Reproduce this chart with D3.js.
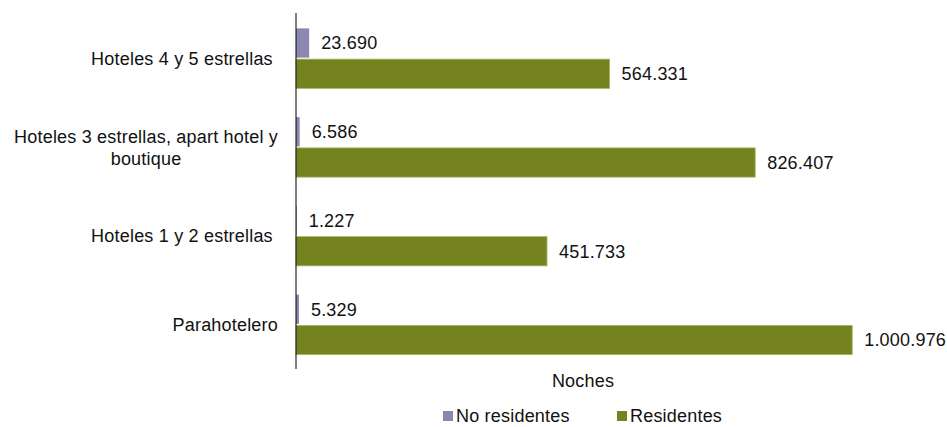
<!DOCTYPE html>
<html>
<head>
<meta charset="utf-8">
<script src="https://cdn.jsdelivr.net/npm/d3@7/dist/d3.min.js"></script>
<style>
  html, body { margin: 0; padding: 0; background: #ffffff; }
  svg text { font-family: "Liberation Sans", Arial, Helvetica, sans-serif; fill: #111; white-space: pre; }
</style>
</head>
<body>
<svg id="chart" width="947" height="427"></svg>
<script>
// ---- data ----
const categories = [
  "Hoteles 4 y 5 estrellas ",
  "Hoteles 3 estrellas, apart hotel y\nboutique",
  "Hoteles 1 y 2 estrellas ",
  "Parahotelero"
];
const seriesNames = ["No residentes", "Residentes"];
const noResidentes = [23690, 6586, 1227, 5329];
const residentes = [564331, 826407, 451733, 1000976];
const axisTitle = "Noches";
const seriesColors = ["#8a88b0", "#75831f"];
const seriesStroke = ["#8a88b0", "#a7b465"];

// ---- layout ----
const svg = d3.select("#chart");
const plotLeft = 296, plotRight = 870, plotTop = 14, plotBottom = 369;
const fontSize = 18, letterSp = 0.2;

const fmt = d3.formatLocale({ decimal: ",", thousands: ".", grouping: [3], currency: ["", ""] }).format(",d");

const x = d3.scaleLinear().domain([0, 1033000]).range([plotLeft, plotRight]);
const y0 = d3.scaleBand().domain(categories).range([plotTop, plotBottom])
  .paddingInner(0.324).paddingOuter(0.162);
const y1 = d3.scaleBand().domain(seriesNames).range([0, y0.bandwidth()]).paddingInner(0.05);

const rows = categories.map((c, i) => ({
  cat: c,
  vals: [
    { s: seriesNames[0], v: noResidentes[i], k: 0 },
    { s: seriesNames[1], v: residentes[i], k: 1 }
  ]
}));

const g = svg.append("g");
const groups = g.selectAll("g.cat").data(rows).join("g")
  .attr("class", "cat")
  .attr("transform", d => `translate(0,${y0(d.cat)})`);

groups.selectAll("rect").data(d => d.vals).join("rect")
  .attr("x", x(0))
  .attr("y", d => y1(d.s))
  .attr("width", d => Math.max(0.6, x(d.v) - x(0)))
  .attr("height", y1.bandwidth())
  .attr("fill", d => seriesColors[d.k])
  .attr("stroke", d => d.k === 1 ? seriesStroke[1] : "none")
  .attr("stroke-width", 0.8);

groups.selectAll("text.val").data(d => d.vals).join("text")
  .attr("class", "val")
  .attr("x", d => x(d.v) + 12)
  .attr("y", d => y1(d.s) + y1.bandwidth() / 2)
  .attr("dy", "0.36em")
  .style("font-size", fontSize + "px")
  .style("letter-spacing", letterSp + "px")
  .text(d => fmt(d.v));

// vertical axis line
svg.append("line")
  .attr("x1", plotLeft).attr("x2", plotLeft)
  .attr("y1", plotTop - 1).attr("y2", plotBottom)
  .attr("stroke", "#000").attr("stroke-width", 1);

// category labels
const labelRight = plotLeft - 18;
const lineH = 22;
categories.forEach(c => {
  const lines = c.split("\n");
  const cy = y0(c) + y0.bandwidth() / 2;
  const t = svg.append("text")
    .style("font-size", fontSize + "px")
    .style("letter-spacing", letterSp + "px")
    .attr("text-anchor", lines.length > 1 ? "middle" : "end");
  const spans = lines.map((ln, j) => t.append("tspan")
    .attr("y", cy + (j - (lines.length - 1) / 2) * lineH)
    .attr("dy", "0.36em")
    .text(ln));
  if (lines.length > 1) {
    const w = d3.max(spans, s => s.node().getComputedTextLength());
    spans.forEach(s => s.attr("x", labelRight - w / 2));
  } else {
    spans.forEach(s => s.attr("x", labelRight));
  }
});

// axis title
svg.append("text")
  .attr("x", (plotLeft + plotRight) / 2)
  .attr("y", 381).attr("dy", "0.36em")
  .attr("text-anchor", "middle")
  .style("font-size", fontSize + "px")
  .style("letter-spacing", letterSp + "px")
  .text(axisTitle);

// legend
const legendPos = [443, 617];
const leg = svg.append("g");
seriesNames.forEach((s, i) => {
  leg.append("rect")
    .attr("x", legendPos[i]).attr("y", 411)
    .attr("width", 10).attr("height", 10)
    .attr("fill", seriesColors[i]);
  leg.append("text")
    .attr("x", legendPos[i] + 13).attr("y", 416).attr("dy", "0.36em")
    .style("font-size", fontSize + "px")
    .style("letter-spacing", letterSp + "px")
    .text(s);
});
</script>
</body>
</html>
